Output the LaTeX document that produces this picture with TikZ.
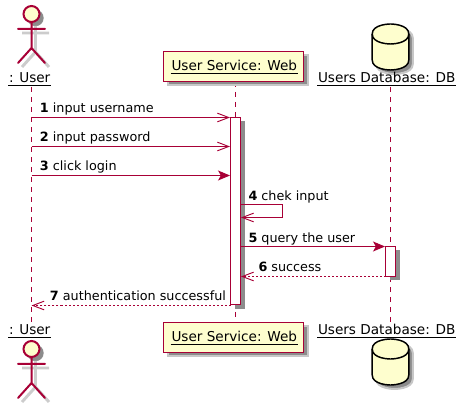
\documentclass[tikz,border=0pt]{standalone}
\usepackage{fontspec}
\setmainfont{DejaVu Sans}
\usetikzlibrary{arrows.meta}
\definecolor{pline}{HTML}{A80036}
\definecolor{pfill}{HTML}{FEFECE}
\newcommand\ulin[1]{\leavevmode\vtop{\hbox{\kern.75pt #1\kern.75pt}\kern1.4pt\hrule height .75pt}}
\newcommand\num[1]{\textbf{#1}\kern3pt}
\tikzset{
  txt/.style={inner sep=0pt,outer sep=0pt,anchor=base west,font=\fontsize{9.58pt}{12pt}\selectfont,text=black},
  ptxt/.style={inner sep=0pt,outer sep=0pt,anchor=base west,font=\fontsize{10.2pt}{12pt}\selectfont,text=black},
  lifeline/.style={draw=pline,line width=.75pt,dash pattern=on 3.75pt off 3.75pt},
  msg/.style={draw=pline,line width=.75pt},
  openhead/.style={-{Straight Barb[length=8.5pt,width=6.5pt,line width=.7pt]}},
  solidhead/.style={-{Stealth[length=9pt,width=7.5pt,inset=2.2pt]}},
  retline/.style={dash pattern=on 1.5pt off 1.5pt},
  box/.style={draw=pline,fill=pfill,line width=1.1pt,minimum width=105pt,minimum height=22.5pt,inner sep=0pt},
  bar/.style={draw=pline,fill=white,line width=.75pt,minimum width=7.5pt,inner sep=0pt},
  softshadow/.style={fill=black!45,draw=black!22,line width=1.5pt},
  actorline/.style={draw=pline,line width=1.5pt,line cap=round},
  actorshadow/.style={draw=black!20,line width=2.2pt},
  dbline/.style={draw=black,line width=1.1pt,fill=pfill},
}
\newcommand\actorshape[2]{%
  \begin{scope}[shift={(#1+4,#2+4)}]
    \fill[black!45] (0,0) circle[radius=8.2];
    \draw[actorshadow] (0,8)--(0,34) (-13.5,15)--(13.5,15) (-13.5,49)--(0,34)--(13.5,49);
  \end{scope}
  \begin{scope}[shift={(#1,#2)}]
    \draw[actorline] (0,8)--(0,34) (-13.5,15)--(13.5,15) (-13.5,49)--(0,34)--(13.5,49);
    \draw[actorline,fill=pfill] (0,0) circle[radius=8];
  \end{scope}}
\newcommand\dbshape[2]{%
  \begin{scope}[shift={(#1+4,#2+4)}]
    \path[softshadow] (-18.3,10) .. controls (-18.3,0) and (0,0) .. (0,0) .. controls (0,0) and (18.3,0) .. (18.3,10) -- (18.3,36) .. controls (18.3,46) and (0,46) .. (0,46) .. controls (0,46) and (-18.3,46) .. (-18.3,36) -- cycle;
  \end{scope}
  \begin{scope}[shift={(#1,#2)}]
    \path[dbline] (-18.3,10) .. controls (-18.3,0) and (0,0) .. (0,0) .. controls (0,0) and (18.3,0) .. (18.3,10) -- (18.3,36) .. controls (18.3,46) and (0,46) .. (0,46) .. controls (0,46) and (-18.3,46) .. (-18.3,36) -- cycle;
    \draw[draw=black,line width=1.1pt] (-18.3,10) .. controls (-18.3,20) and (0,20) .. (0,20) .. controls (0,20) and (18.3,20) .. (18.3,10);
  \end{scope}}
\begin{document}
\begin{tikzpicture}[x=.75pt,y=-.75pt]
\useasboundingbox (0,0) rectangle (468,409);
% lifeline ends
\coordinate (ut) at (31.5,87); \coordinate (ub) at (31.5,322);
\coordinate (wt) at (235.5,82); \coordinate (wb) at (235.5,322);
\coordinate (dt) at (390.5,87); \coordinate (db) at (390.5,322);
\draw[lifeline] (ut)--(ub);
\draw[lifeline] (wt)--(wb);
\draw[lifeline] (dt)--(db);
% actors and databases
\actorshape{31.5}{14}
\actorshape{31.5}{349}
\dbshape{390.5}{24}
\dbshape{390.5}{339}
\node[ptxt] (ulabT) at (8,82.7) {\ulin{: User}};
\node[ptxt] (ulabB) at (8,335) {\ulin{: User}};
\node[ptxt] (dlabT) at (317,82.7) {\ulin{Users Database: DB}};
\node[ptxt] (dlabB) at (317,335) {\ulin{Users Database: DB}};
% participant boxes
\fill[black!45] (167.5,55.5) rectangle (307.5,85.5);
\draw[black!22,line width=1.5pt] (167.5,55.5) rectangle (307.5,85.5);
\fill[black!45] (167.5,326.5) rectangle (307.5,356.5);
\draw[black!22,line width=1.5pt] (167.5,326.5) rectangle (307.5,356.5);
\node[box] (webT) at (233.5,66.5) {};
\node[box] (webB) at (233.5,337.5) {};
\node[ptxt] (webTl) at (170.5,71) {\ulin{User Service: Web}};
\node[ptxt] (webBl) at (170.5,342) {\ulin{User Service: Web}};
% activation bars
\fill[black!45] (234.5,121.5) rectangle (244.5,309);
\fill[black!45] (389.5,250.5) rectangle (399.5,280.5);
\draw[bar] (230.5,117.5) rectangle (240.5,305);
\draw[bar] (385.5,246.5) rectangle (395.5,276.5);
% message ends
\coordinate (m1a) at (31.5,117.5); \coordinate (m1b) at (230,117.5);
\coordinate (m2a) at (31.5,146.5); \coordinate (m2b) at (230,146.5);
\coordinate (m3a) at (31.5,175.5); \coordinate (m3b) at (230,175.5);
\coordinate (m4a) at (240.5,204.5); \coordinate (m4r) at (282.5,204.5); \coordinate (m4s) at (282.5,217.5); \coordinate (m4b) at (241,217.5);
\coordinate (m5a) at (240.5,246.5); \coordinate (m5b) at (385,246.5);
\coordinate (m6a) at (385.5,276.5); \coordinate (m6b) at (241,276.5);
\coordinate (m7a) at (230.5,305.5); \coordinate (m7b) at (31.5,305.5);
\draw[msg,openhead] (m1a)--(m1b);
\draw[msg,openhead] (m2a)--(m2b);
\draw[msg,solidhead] (m3a)--(m3b);
\draw[msg,openhead] (m4a)--(m4r)--(m4s)--(m4b);
\draw[msg,solidhead] (m5a)--(m5b);
\draw[msg,retline,openhead] (m6a)--(m6b);
\draw[msg,retline,openhead] (m7a)--(m7b);
% labels
\node[txt] (l1) at (40,112.5) {\num{1}input username};
\node[txt] (l2) at (40,141.5) {\num{2}input password};
\node[txt] (l3) at (40,170.5) {\num{3}click login};
\node[txt] (l4) at (248.5,200.5) {\num{4}chek input};
\node[txt] (l5) at (248.5,242.5) {\num{5}query the user};
\node[txt] (l6) at (258.5,271.5) {\num{6}success};
\node[txt] (l7) at (50,300.5) {\num{7}authentication successful};
\end{tikzpicture}
\end{document}
